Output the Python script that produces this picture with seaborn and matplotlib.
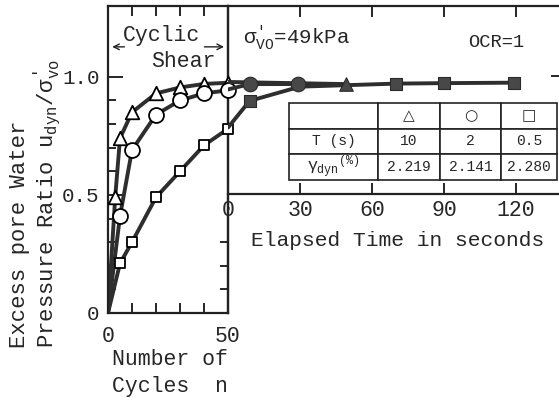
import numpy as np
import matplotlib
matplotlib.use('Agg')
import matplotlib.pyplot as plt
import seaborn as sns

# left panel: ratio vs number of cycles (open symbols)
cycles_tri = [0, 3, 5, 10, 20, 30, 40, 50]
ratio_tri = [0, 0.49, 0.74, 0.85, 0.93, 0.955, 0.97, 0.975]
cycles_cir = [0, 5, 10, 20, 30, 40, 50]
ratio_cir = [0, 0.41, 0.69, 0.84, 0.90, 0.93, 0.943]
cycles_sq = [0, 5, 10, 20, 30, 40, 50]
ratio_sq = [0, 0.21, 0.30, 0.49, 0.60, 0.71, 0.78]

# right panel: ratio vs elapsed time after shearing (filled symbols)
time_tri = [0, 49]
rtime_tri = [0.975, 0.966]
mark_tri = [False, True]
time_cir = [0, 9, 29]
rtime_cir = [0.943, 0.966, 0.966]
mark_cir = [False, True, True]
time_sq = [0, 9, 30, 70, 90, 119]
rtime_sq = [0.78, 0.894, 0.955, 0.968, 0.970, 0.972]
mark_sq = [False, True, False, True, True, True]

table_rows = ['', 'T (s)', r'$\gamma_{\rm dyn}$$^{(\%)}$']
table_syms = ['\u25b3', '\u25cb', '\u25a1']
table_T = ['10', '2', '0.5']
table_gamma = ['2.219', '2.141', '2.280']

sns.set_style('ticks')
plt.rcParams['font.family'] = ['Liberation Mono', 'DejaVu Sans']
plt.rcParams['mathtext.fontset'] = 'custom'
plt.rcParams['mathtext.rm'] = 'Liberation Mono'
plt.rcParams['mathtext.it'] = 'Liberation Mono'
plt.rcParams['axes.linewidth'] = 1.6
plt.rcParams['axes.edgecolor'] = '#222222'

W, H = 559, 401
fig = plt.figure(figsize=(W / 100, H / 100), dpi=100)

def fx(px):
    return px / W

def fy(py):
    return 1 - py / H

ax = fig.add_axes([fx(108), fy(313), fx(228) - fx(108), fy(6) - fy(313)])
axr = fig.add_axes([fx(228), fy(194), fx(561) - fx(228), fy(6) - fy(194)])
axr.patch.set_alpha(0)

line_c = '#2e2e2e'
fill_c = '#484848'
lw = 2.8

# left panel
for xs, ys, m, s in [(cycles_tri, ratio_tri, '^', 95),
                     (cycles_cir, ratio_cir, 'o', 115),
                     (cycles_sq, ratio_sq, 's', 60)]:
    sns.lineplot(x=xs, y=ys, ax=ax, color=line_c, lw=lw, sort=False, zorder=2)
    sns.scatterplot(x=xs[1:], y=ys[1:], ax=ax, marker=m, s=s, facecolor='white',
                    edgecolor='black', linewidth=1.3, zorder=3, clip_on=False)

ax.set_xlim(0, 50)
ax.set_ylim(0, 1.30)
ax.set_xticks([0, 50])
ax.set_xticks([10, 20, 30, 40], minor=True)
ax.set_yticks([0, 0.5, 1.0])
ax.set_yticklabels(['0', '0.5', '1.0'])
ax.set_yticks([0.1, 0.2, 0.3, 0.4, 0.6, 0.7, 0.8, 0.9], minor=True)
ax.tick_params(axis='x', which='both', direction='in', top=True, bottom=True,
               labelsize=15.5, pad=9, length=7, width=1.4)
ax.tick_params(axis='x', which='major', length=0)
ax.tick_params(axis='y', which='major', direction='in', length=11, width=1.4,
               labelsize=15, pad=6, right=False)
ax.tick_params(axis='y', which='minor', direction='in', length=6, width=1.4, right=False)
sec = ax.secondary_yaxis('right')
sec.set_yticks([0.1, 0.2, 0.3])
sec.tick_params(direction='in', length=6, width=1.4, labelright=False)
ax.set_xlabel('')
ax.set_ylabel('')

# right panel
for xs, ys, mk, m, s in [(time_tri, rtime_tri, mark_tri, '^', 95),
                         (time_cir, rtime_cir, mark_cir, 'o', 110),
                         (time_sq, rtime_sq, mark_sq, 's', 70)]:
    sns.lineplot(x=xs, y=ys, ax=axr, color=line_c, lw=lw, sort=False, zorder=2)
    px = [x for x, k in zip(xs, mk) if k]
    py = [y for y, k in zip(ys, mk) if k]
    sns.scatterplot(x=px, y=py, ax=axr, marker=m, s=s, color=fill_c,
                    edgecolor='#2a2a2a', linewidth=0.8, zorder=3)

axr.set_xlim(0, (561 - 228) / 2.4)
axr.set_ylim(0.5 + (194 - 195.0) / 236, 1.30)
axr.set_xticks([0, 30, 60, 90, 120])
axr.set_yticks([1.0])
axr.tick_params(axis='x', direction='in', top=True, bottom=True, length=8,
                width=1.4, labelsize=15.5, pad=4)
axr.tick_params(axis='y', direction='in', left=False, right=True, labelleft=False,
                length=7, width=1.4)
axr.spines['left'].set_visible(False)
axr.set_xlabel('')
axr.set_ylabel('')

# table of test conditions
cells = [[table_rows[0]] + table_syms,
         [table_rows[1]] + table_T,
         [table_rows[2]] + table_gamma]
tbl = axr.table(cellText=cells, colWidths=[0.332, 0.231, 0.228, 0.209],
                bbox=[0.183, 0.075, 0.805, 0.41], cellLoc='center', zorder=4)
tbl.auto_set_font_size(False)
tbl.set_fontsize(10.5)
for (r, c), cell in tbl.get_celld().items():
    cell.set_linewidth(1.2)
    cell.set_edgecolor('#222222')
    if c == 0:
        cell._loc = 'left'
        cell.PAD = 0.06
    if r == 0 and c > 0:
        cell.get_text().set_fontweight('bold')
        cell.get_text().set_family('DejaVu Sans')
        cell.get_text().set_fontsize(11)
    if r == 2 and c == 0:
        cell.get_text().set_fontsize(12)

# annotations
ax.annotate('', xy=(0.6, 1.127), xytext=(8, 1.127),
            arrowprops=dict(arrowstyle='->', lw=1.0, color='#222222'), annotation_clip=False)
ax.annotate('', xy=(49.5, 1.127), xytext=(39, 1.127),
            arrowprops=dict(arrowstyle='->', lw=1.0, color='#222222'), annotation_clip=False)
ax.text(22.5, 1.174, 'Cyclic', ha='center', va='center', fontsize=15.5)
ax.text(31.2, 1.064, 'Shear', ha='center', va='center', fontsize=15.5)
axr.text(6.2, 1.165, r"$\sigma^{\prime}_{\rm VO}$=49kPa", ha='left', va='center', fontsize=15)
axr.text(100, 1.144, 'OCR=1', ha='left', va='center', fontsize=13.5)

fig.text(fx(9), fy(348), 'Excess pore Water', rotation=90, ha='left', va='bottom',
         fontsize=16)
fig.text(fx(32), fy(348), r"Pressure Ratio u$_{\rm dyn}$/$\sigma^{\prime}_{\rm vo}$",
         rotation=90, ha='left', va='bottom', fontsize=16)
fig.text(fx(170), fy(373), 'Number of\nCycles  n', ha='center', va='center',
         fontsize=15.5, linespacing=1.4)
fig.text(fx(398), fy(240), 'Elapsed Time in seconds', ha='center', va='center',
         fontsize=15.3)

fig.savefig('out.png', dpi=100)
